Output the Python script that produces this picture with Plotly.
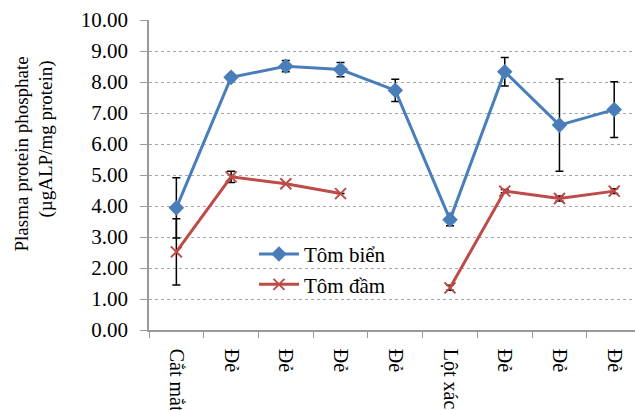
import plotly.graph_objects as go

categories = ["Cắt mắt", "Đẻ ", "Đẻ  ", "Đẻ   ", "Đẻ    ", "Lột xác", "Đẻ     ", "Đẻ      ", "Đẻ       "]
tom_bien = [3.94, 8.15, 8.51, 8.40, 7.73, 3.56, 8.33, 6.61, 7.11]
tom_bien_err = [0.97, 0.10, 0.18, 0.23, 0.36, 0.20, 0.46, 1.49, 0.90]
tom_dam = [2.52, 4.94, 4.72, 4.40, None, 1.36, 4.48, 4.24, 4.48]
tom_dam_err = [1.07, 0.18, 0.0, 0.0, 0.0, 0.08, 0.05, 0.08, 0.08]
y_ticks = [0, 1, 2, 3, 4, 5, 6, 7, 8, 9, 10]

FONT = "Liberation Serif, Times New Roman, serif"
BLUE = "#4A7EBB"
RED = "#BE4B48"

fig = go.Figure()
fig.add_trace(go.Scatter(
    x=categories, y=tom_bien, name="Tôm biển", mode="lines+markers",
    line=dict(color=BLUE, width=3),
    marker=dict(symbol="diamond", size=12, color=BLUE),
    error_y=dict(type="data", array=tom_bien_err, color="black", thickness=1.5, width=4),
))
fig.add_trace(go.Scatter(
    x=categories, y=tom_dam, name="Tôm đầm", mode="lines+markers",
    line=dict(color=RED, width=3),
    marker=dict(symbol="x-thin", size=11, color=RED, line=dict(color=RED, width=2)),
    error_y=dict(type="data", array=tom_dam_err, color="black", thickness=1.5, width=4),
    connectgaps=False,
))

fig.add_shape(type="rect", xref="paper", yref="paper", x0=0.156, x1=0.562, y0=0.108, y1=0.292,
              fillcolor="white", line=dict(width=0), layer="between")

# y-axis title as two rotated lines
fig.add_annotation(text="Plasma protein phosphate", textangle=-90, showarrow=False,
                   xref="paper", yref="paper", x=(21 - 149) / 486, y=(330.5 - 155) / 310,
                   xanchor="center", yanchor="middle", font=dict(family=FONT, size=19))
fig.add_annotation(text="(µgALP/mg protein)", textangle=-90, showarrow=False,
                   xref="paper", yref="paper", x=(45 - 149) / 486, y=(330.5 - 140) / 310,
                   xanchor="center", yanchor="middle", font=dict(family=FONT, size=19))

fig.update_layout(
    width=635, height=410,
    margin=dict(l=149, r=0, t=20, b=80, autoexpand=False),
    paper_bgcolor="white", plot_bgcolor="white",
    font=dict(family=FONT, size=21, color="black"),
    showlegend=True,
    legend=dict(x=0.216, y=0.31, xanchor="left", yanchor="top", bgcolor="rgba(0,0,0,0)",
                font=dict(family=FONT, size=21), tracegroupgap=0, itemwidth=40),
    xaxis=dict(
        type="category", range=[-0.5, 8.38], showgrid=False,
        showline=True, linecolor="#9A9A9A", linewidth=1.5,
        ticks="outside", tickson="boundaries", ticklen=6, tickcolor="#9A9A9A",
        tickangle=90, tickfont=dict(family=FONT, size=20), automargin=False,
        ticklabelstandoff=13,
    ),
    yaxis=dict(
        range=[0, 10], tickvals=y_ticks, tickformat=".2f",
        showgrid=True, gridcolor="#A6A6A6", griddash="dot", gridwidth=1,
        showline=True, linecolor="#9A9A9A", linewidth=1.5,
        ticks="outside", ticklen=7, tickcolor="#9A9A9A",
        tickfont=dict(family=FONT, size=21), automargin=False,
        ticklabelstandoff=8, zeroline=False,
    ),
)

fig.write_html("out.html", config={"displayModeBar": False},
               post_script="document.body.style.margin='0';")
